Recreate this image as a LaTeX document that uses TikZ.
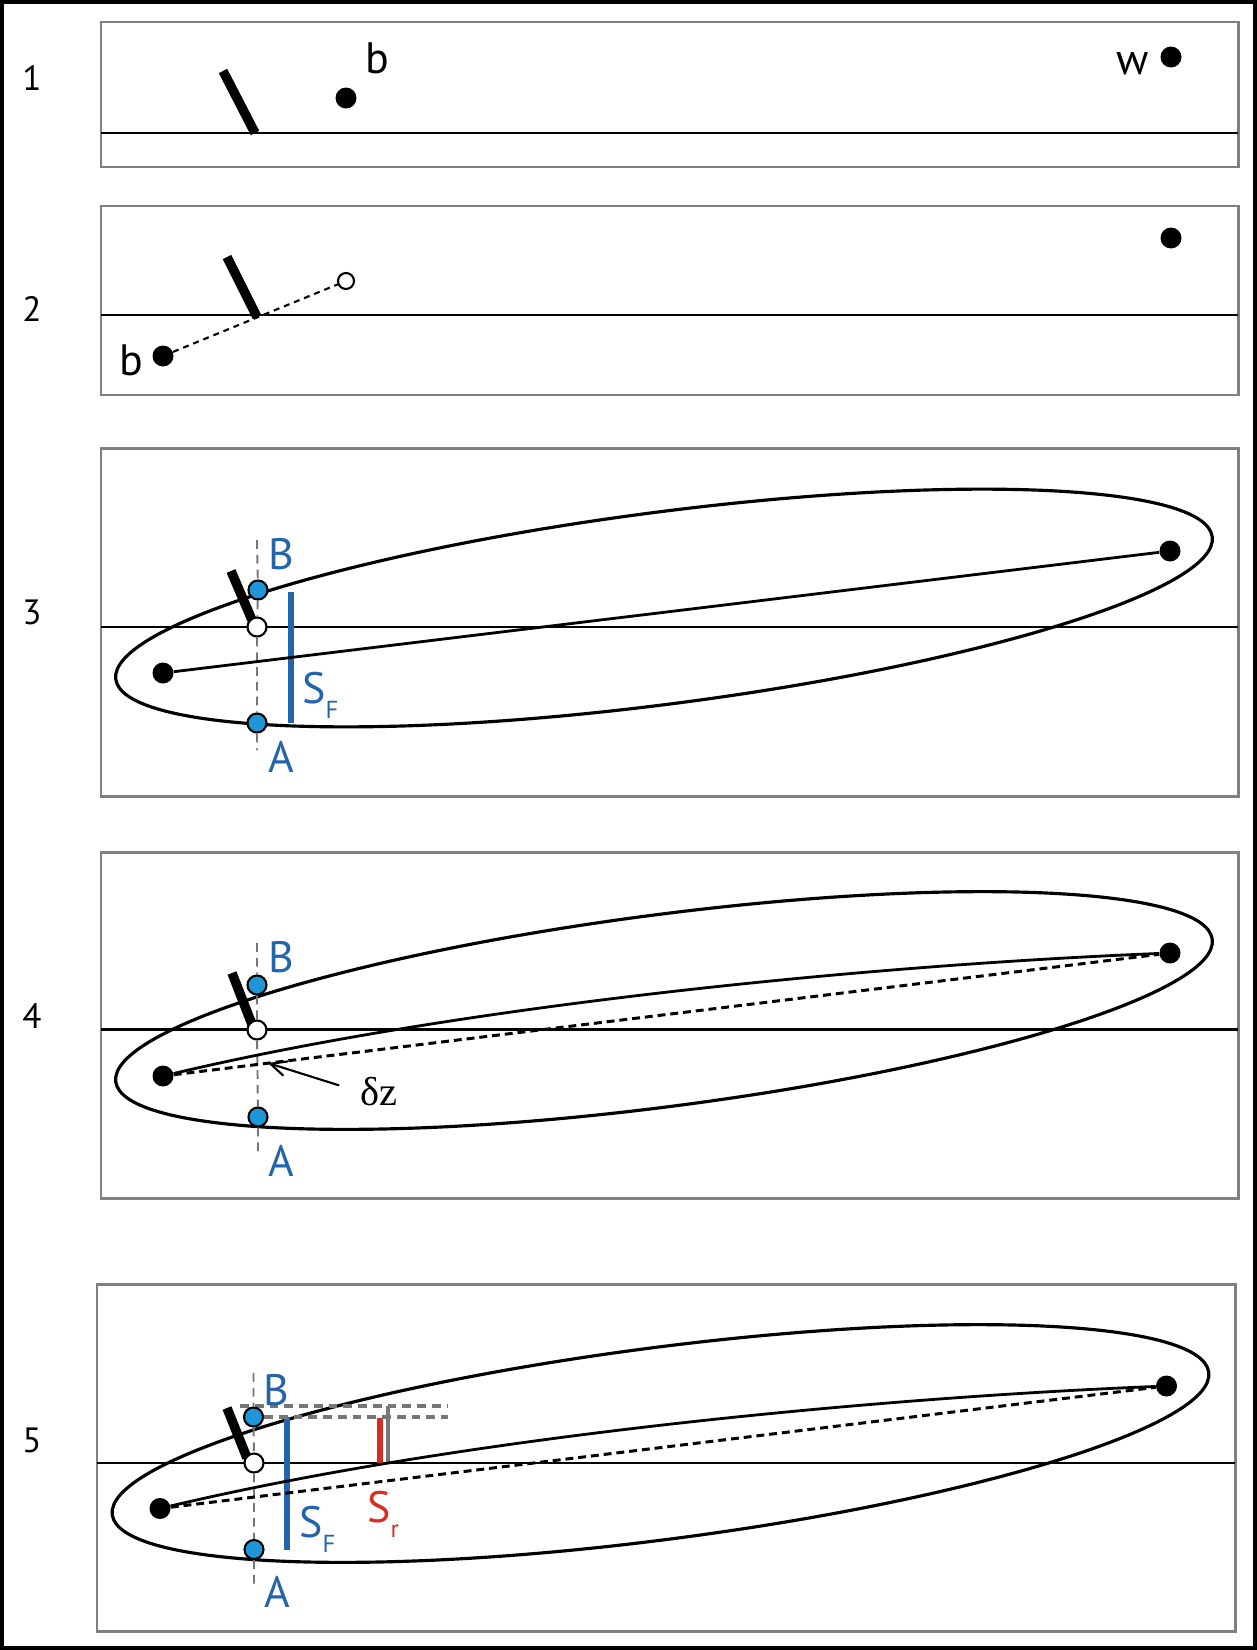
\documentclass[tikz,border=0pt]{standalone}
\usepackage{fontspec}
\setmainfont{PT Sans}
\newfontfamily\deltafont{Liberation Serif}
\usetikzlibrary{arrows.meta}

\definecolor{boxgray}{RGB}{128,128,128}
\definecolor{guidegray}{RGB}{118,118,118}
\definecolor{sfblue}{RGB}{35,100,170}
\definecolor{probefill}{RGB}{30,150,215}
\definecolor{srred}{RGB}{215,45,35}

\newcommand{\lowidx}[1]{\raisebox{-9pt}{\fontsize{14}{16}\selectfont #1}}

\begin{document}
\begin{tikzpicture}[
    x=0.02cm, y=-0.02cm,
    >={Straight Barb[length=0.32cm,width=0.3cm]},
    panel/.style={draw=boxgray, line width=1.7pt},
    ground/.style={line width=1.5pt},
    orbit/.style={line width=1.8pt},
    wall/.style={line width=5.4pt},
    track/.style={line width=1.6pt},
    dashtrack/.style={line width=1.7pt, dash pattern=on 4.5pt off 2.8pt},
    guide/.style={draw=guidegray, line width=1.1pt, dash pattern=on 5pt off 3.4pt},
    hline/.style={draw=guidegray, line width=2pt, dash pattern=on 5pt off 3.4pt},
    sfbar/.style={draw=sfblue, line width=3.4pt},
    dot/.style={circle, fill=black, inner sep=0pt, minimum size=0.42cm},
    hollow/.style={circle, draw=black, fill=white, line width=1.2pt, inner sep=0pt, minimum size=0.38cm},
    probe/.style={circle, draw=black, fill=probefill, line width=1.2pt, inner sep=0pt, minimum size=0.38cm},
    num/.style={inner sep=0pt, font=\fontsize{20}{24}\selectfont},
    lbl/.style={inner sep=0pt, font=\fontsize{25}{30}\selectfont},
    bluelbl/.style={lbl, text=sfblue},
    redlbl/.style={lbl, text=srred}
]

\useasboundingbox (0,0) rectangle (1257,1650);
\draw[line width=2.3pt] (2,2) rectangle (1255,1648);

% 1
\draw[panel] (101,22) rectangle (1238,167);
\draw[ground] (101,133) -- (1238,133);
\draw[wall] (223,71) -- (255,133);
\node[num] (n1) at (32,78) {1};
\node[dot] (b1) at (346,98) {};
\node[lbl] (b1l) at (377,58) {b};
\node[dot] (w1) at (1171,57) {};
\node[lbl] (w1l) at (1133,64) {w};

% 2
\draw[panel] (101,206) rectangle (1238,395);
\draw[ground] (101,315) -- (1238,315);
\draw[wall] (227,257) -- (257,317);
\node[num] (n2) at (32,309) {2};
\node[hollow, minimum size=0.32cm] (o2) at (346,281) {};
\node[dot] (b2) at (163,356) {};
\node[lbl] (b2l) at (131,360) {b};
\node[dot] (w2) at (1171,238) {};
\draw[dashtrack, line width=1.2pt, dash pattern=on 3.4pt off 2.8pt] (b2) -- (o2);

% 3
\draw[panel] (101,448) rectangle (1238,796);
\draw[ground] (101,627) -- (1238,627);
\draw[orbit, rotate around={7.4:(664,608)}] (664,608) ellipse [x radius=11.06cm, y radius=1.92cm];
\draw[wall] (231,571) -- (252,620);
\draw[sfbar] (291,592) -- (291,723);
\node[num] (n3) at (32,612) {3};
\node[dot] (l3) at (163,673) {};
\node[dot] (r3) at (1170,551) {};
\node[probe] (B3) at (258,590) {};
\node[hollow] (o3) at (257,627) {};
\node[probe] (A3) at (257,723) {};
\node[bluelbl] (B3l) at (281,554) {B};
\node[bluelbl] (A3l) at (281,757) {A};
\node[bluelbl, anchor=base west] (sf3) at (302,703) {S\lowidx{F}};
\coordinate (g3t) at (257,540);
\coordinate (g3b) at (257,750);
\draw[guide] (g3t) -- (B3) (B3) -- (o3) (o3) -- (A3) (A3) -- (g3b);
\draw[track] (l3) -- (r3);

% 4
\draw[panel] (101,852) rectangle (1238,1198);
\draw[ground] (101,1029.5) -- (1238,1029.5);
\draw[orbit, rotate around={7.4:(664,1010.5)}] (664,1010.5) ellipse [x radius=11.06cm, y radius=1.92cm];
\draw[wall] (232,973) -- (253,1027);
\node[num] (n4) at (32,1016) {4};
\node[dot] (l4) at (163,1076) {};
\node[dot] (r4) at (1170,953) {};
\node[probe] (B4) at (257,985) {};
\node[hollow] (o4) at (257,1030) {};
\node[probe] (A4) at (258,1117) {};
\node[bluelbl] (B4l) at (281,957) {B};
\node[bluelbl] (A4l) at (281,1161) {A};
\node[inner sep=0pt, font=\deltafont\fontsize{23}{28}\selectfont] (dz) at (379,1092) {δz};
\coordinate (g4t) at (257,943);
\coordinate (g4b) at (258,1153);
\coordinate (dz4) at (268,1063);
\draw[guide] (g4t) -- (B4) (B4) -- (o4) (o4) -- (A4) (A4) -- (g4b);
\draw[track] (l4) .. controls +(287,-68) and +(-320,13) .. (r4);
\draw[dashtrack] (l4) -- (r4);
\draw[->, line width=1.2pt, shorten <=0.44cm] (dz.west) -- (dz4);

% 5
\draw[panel] (97,1284) rectangle (1235,1631);
\draw[ground] (97,1463) -- (1235,1463);
\draw[orbit, rotate around={7.4:(660.5,1443.5)}] (660.5,1443.5) ellipse [x radius=11.06cm, y radius=1.92cm];
\draw[wall] (227,1408) -- (247,1458);
\draw[sfbar] (287,1417) -- (287,1550);
\draw[hline] (240,1406) -- (448,1406);
\draw[draw=guidegray, line width=2.6pt] (388,1406) -- (388,1463);
\draw[draw=srred, line width=3.1pt] (380,1418) -- (380,1463);
\node[num] (n5) at (32,1440) {5};
\node[dot] (l5) at (160,1508.5) {};
\node[dot] (r5) at (1166.5,1386) {};
\node[probe] (B5) at (253.5,1417) {};
\node[hollow] (o5) at (254,1463) {};
\node[probe] (A5) at (254,1549.5) {};
\node[bluelbl] (B5l) at (276,1390) {B};
\node[bluelbl] (A5l) at (277,1592) {A};
\node[bluelbl, anchor=base west] (sf5) at (299,1537) {S\lowidx{F}};
\node[redlbl, anchor=base west] (sr5) at (367,1522) {S\lowidx{r}};
\coordinate (g5t) at (253.5,1373);
\coordinate (g5b) at (254,1587);
\coordinate (h5) at (448,1417);
\draw[guide] (g5t) -- (B5) (B5) -- (o5) (o5) -- (A5) (A5) -- (g5b);
\draw[hline] (B5) -- (h5);
\draw[track] (l5) .. controls +(287,-68) and +(-320,13) .. (r5);
\draw[dashtrack] (l5) -- (r5);

\end{tikzpicture}
\end{document}
